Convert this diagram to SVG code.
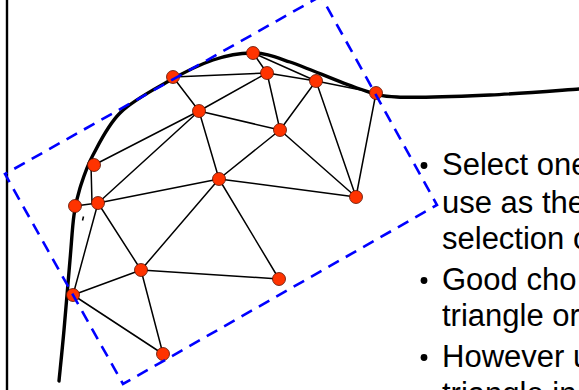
<svg xmlns="http://www.w3.org/2000/svg" width="579" height="390" viewBox="0 0 579 390">
<style>
.edge{stroke:#000;stroke-width:1.5;fill:none;stroke-linecap:round}
.node{fill:#ff3300;stroke:#5a1000;stroke-width:0.8}
.curve{stroke:#000;stroke-width:3.4;fill:none;stroke-linecap:round}
.box{stroke:#0000ff;stroke-width:2.6;fill:none;stroke-dasharray:12 8}
.txt{font-family:"Liberation Sans",Arial,sans-serif;font-size:31px;fill:#000}
</style>
<rect width="579" height="390" fill="#fff"/>
<line x1="7" y1="0" x2="7" y2="390" stroke="#000" stroke-width="2.4"/>
<path class="curve" d="M59,381 C59.8,372.5 62.2,350.2 64,330 C65.8,309.8 68.3,279.2 70,260 C71.7,240.8 72.3,227 74,215 C75.7,203 76.8,198 80,188 C83.2,178 86.3,167.5 93,155 C99.7,142.5 107.7,125.2 120,113 C132.3,100.8 151.5,90.8 167,82 C182.5,73.2 198.7,64.8 213,60 C227.3,55.2 240.2,52.7 253,53 C265.8,53.3 272.7,56.2 290,62 C307.3,67.8 339.2,82.2 357,88 C374.8,93.8 374.8,95.8 397,97 C419.2,98.2 459.7,96.3 490,95 C520.3,93.7 564.2,90 579,89"/>
<line x1="83.5" y1="216.5" x2="82.5" y2="220.5" stroke="#000" stroke-width="1.6"/>
<g id="connectors">
<line class="edge" x1="173" y1="77" x2="267" y2="73"/>
<line class="edge" x1="173" y1="77" x2="199" y2="111"/>
<line class="edge" x1="253" y1="53" x2="267" y2="73"/>
<line class="edge" x1="253" y1="53" x2="316" y2="81"/>
<line class="edge" x1="267" y1="73" x2="316" y2="81"/>
<line class="edge" x1="316" y1="81" x2="376" y2="93"/>
<line class="edge" x1="267" y1="73" x2="199" y2="111"/>
<line class="edge" x1="267" y1="73" x2="280" y2="130"/>
<line class="edge" x1="199" y1="111" x2="280" y2="130"/>
<line class="edge" x1="316" y1="81" x2="280" y2="130"/>
<line class="edge" x1="316" y1="81" x2="356" y2="197"/>
<line class="edge" x1="376" y1="93" x2="356" y2="197"/>
<line class="edge" x1="280" y1="130" x2="219" y2="179"/>
<line class="edge" x1="280" y1="130" x2="356" y2="197"/>
<line class="edge" x1="219" y1="179" x2="356" y2="197"/>
<line class="edge" x1="199" y1="111" x2="219" y2="179"/>
<line class="edge" x1="199" y1="111" x2="94" y2="165"/>
<line class="edge" x1="199" y1="111" x2="98" y2="203"/>
<line class="edge" x1="91" y1="165" x2="92" y2="203"/>
<line class="edge" x1="75" y1="206" x2="98" y2="203"/>
<line class="edge" x1="219" y1="179" x2="98" y2="203"/>
<line class="edge" x1="219" y1="179" x2="141" y2="270"/>
<line class="edge" x1="219" y1="179" x2="279" y2="279"/>
<line class="edge" x1="98" y1="203" x2="141" y2="270"/>
<line class="edge" x1="98" y1="203" x2="73" y2="295"/>
<line class="edge" x1="141" y1="270" x2="73" y2="295"/>
<line class="edge" x1="141" y1="270" x2="279" y2="279"/>
<line class="edge" x1="141" y1="270" x2="163" y2="354"/>
<line class="edge" x1="73" y1="295" x2="163" y2="354"/>
</g>
<g id="n1"><circle class="node" cx="173" cy="77" r="6.5"/></g>
<g id="n2"><circle class="node" cx="253" cy="53" r="6.5"/></g>
<g id="n3"><circle class="node" cx="267" cy="73" r="6.5"/></g>
<g id="n4"><circle class="node" cx="316" cy="81" r="6.5"/></g>
<g id="n5"><circle class="node" cx="376" cy="93" r="6.5"/></g>
<g id="n6"><circle class="node" cx="199" cy="111" r="6.5"/></g>
<g id="n7"><circle class="node" cx="280" cy="130" r="6.5"/></g>
<g id="n8"><circle class="node" cx="94" cy="165" r="6.5"/></g>
<g id="n9"><circle class="node" cx="219" cy="179" r="6.5"/></g>
<g id="n10"><circle class="node" cx="356" cy="197" r="6.5"/></g>
<g id="n11"><circle class="node" cx="75" cy="206" r="6.5"/></g>
<g id="n12"><circle class="node" cx="98" cy="203" r="6.5"/></g>
<g id="n13"><circle class="node" cx="141" cy="270" r="6.5"/></g>
<g id="n14"><circle class="node" cx="279" cy="279" r="6.5"/></g>
<g id="n15"><circle class="node" cx="73" cy="295" r="6.5"/></g>
<g id="n16"><circle class="node" cx="163" cy="354" r="6.5"/></g>
<polygon class="box" points="321,-4 5,174 123,384 437,205"/>
<g id="text">
<circle cx="424" cy="165.5" r="3.4" fill="#000"/>
<circle cx="424" cy="280.5" r="3.4" fill="#000"/>
<circle cx="424" cy="357.5" r="3.4" fill="#000"/>
<text class="txt" x="442" y="175">Select one</text>
<text class="txt" x="442" y="212.5">use as the</text>
<text class="txt" x="442" y="249">selection o</text>
<text class="txt" x="442" y="290">Good cho</text>
<text class="txt" x="442" y="326">triangle or</text>
<text class="txt" x="442" y="367">However u</text>
<text class="txt" x="442" y="404">triangle in</text>
</g>
</svg>
